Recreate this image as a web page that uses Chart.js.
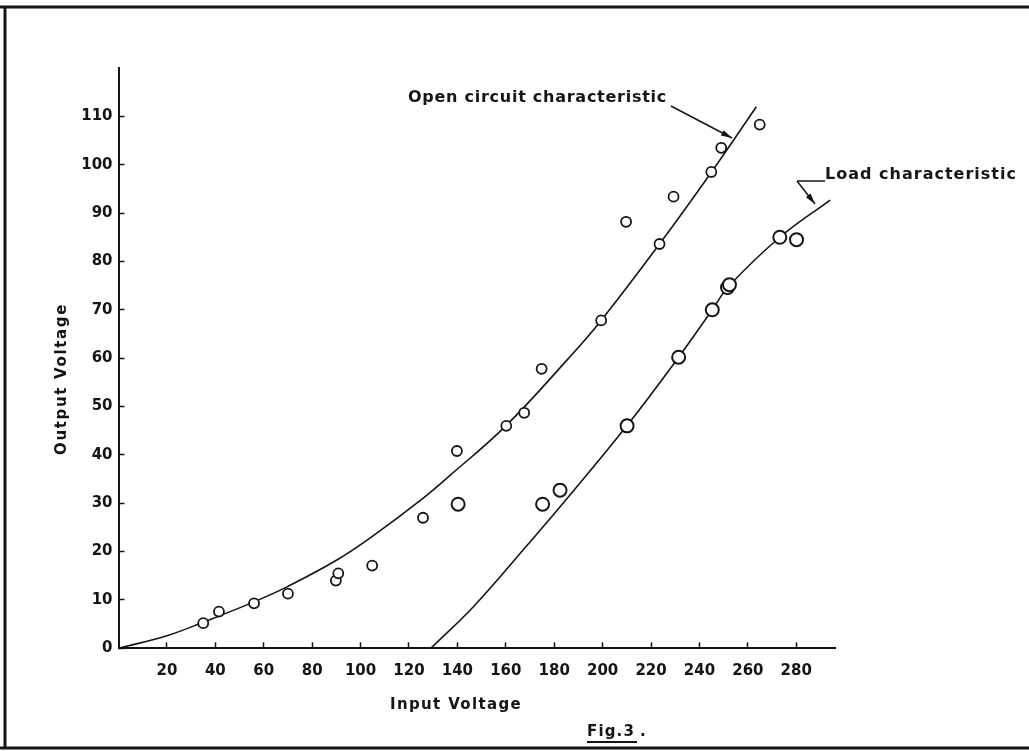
<!DOCTYPE html>
<html>
<head>
<meta charset="utf-8">
<script src="https://cdn.jsdelivr.net/npm/chart.js@4/dist/chart.umd.min.js"></script>
<style>
  body { margin: 0; background: #fffffd; }
  #box { width: 1029px; height: 751px; position: relative; }
</style>
</head>
<body>
<div id="box"><canvas id="myChart"></canvas></div>
<script>
let ctx = document.getElementById('myChart')
let ink = '#161513'
let fontName = '"DejaVu Sans", sans-serif'

// measured points - open circuit (small circles)
let ocX = [35, 41.5, 56, 70, 89.8, 90.8, 104.8, 125.8, 139.8, 160.2, 167.6, 174.8, 199.4, 209.7, 223.5, 229.3, 244.9, 249, 264.9]
let ocY = [5.2, 7.6, 9.3, 11.3, 14, 15.5, 17.1, 27, 40.8, 46, 48.7, 57.8, 67.8, 88.2, 83.6, 93.4, 98.5, 103.5, 108.3]

// measured points - load (large circles)
let ldX = [140.3, 175.2, 182.4, 210.1, 231.4, 245.3, 251.6, 252.4, 273.2, 280.1]
let ldY = [29.8, 29.8, 32.7, 46, 60.2, 70, 74.6, 75.2, 85, 84.5]

// fitted curves
let ocCurveX = [0, 20, 35, 56, 70, 90, 105, 125.5, 137.3, 160, 186, 199.4, 223.5, 245, 263.5]
let ocCurveY = [0, 2.6, 5.4, 9.6, 12.8, 18.2, 23.2, 30.9, 35.9, 46, 60, 67.8, 83.6, 98.5, 112]
let ldCurveX = [129, 147, 169, 184, 210, 231.4, 245.3, 252, 273.2, 294]
let ldCurveY = [0, 8.8, 21.4, 30.2, 46, 60.2, 70, 74.8, 85, 92.7]

// axis ticks
let xTicks = [20, 40, 60, 80, 100, 120, 140, 160, 180, 200, 220, 240, 260, 280]
let yTicks = [0, 10, 20, 30, 40, 50, 60, 70, 80, 90, 100, 110]

let pairs = (xs, ys) => xs.map((x, i) => ({ x: x, y: ys[i] }))

function fitText(c, text, x, y, w, align) {
    c.letterSpacing = '0px'
    let natural = c.measureText(text).width
    let sp = (w - natural) / text.length
    c.letterSpacing = sp + 'px'
    c.textAlign = 'left'
    let startX = align === 'center' ? x - w / 2 : x
    c.fillText(text, startX, y)
    c.letterSpacing = '0px'
}

function arrow(c, x1, y1, x2, y2) {
    c.beginPath()
    c.moveTo(x1, y1)
    c.lineTo(x2, y2)
    c.stroke()
    let a = Math.atan2(y2 - y1, x2 - x1)
    c.beginPath()
    c.moveTo(x2, y2)
    c.lineTo(x2 - 11 * Math.cos(a) + 3 * Math.sin(a), y2 - 11 * Math.sin(a) - 3 * Math.cos(a))
    c.lineTo(x2 - 11 * Math.cos(a) - 3 * Math.sin(a), y2 - 11 * Math.sin(a) + 3 * Math.cos(a))
    c.closePath()
    c.fill()
}

let paperPlugin = {
    id: 'paper',
    beforeDraw(chart) {
        let c = chart.ctx
        c.save()
        c.fillStyle = '#fffffd'
        c.fillRect(0, 0, chart.width, chart.height)
        c.strokeStyle = ink
        c.lineWidth = 3
        c.beginPath()
        c.moveTo(0, 7)
        c.lineTo(chart.width, 7)
        c.moveTo(5, 7)
        c.lineTo(5, 748)
        c.moveTo(0, 748)
        c.lineTo(chart.width, 748)
        c.stroke()
        c.restore()
    },
    afterDraw(chart) {
        let c = chart.ctx
        c.save()
        c.fillStyle = ink
        c.strokeStyle = ink
        c.textBaseline = 'middle'
        c.font = 'bold 16px ' + fontName
        fitText(c, 'Open circuit characteristic', 408, 98, 259, 'left')
        fitText(c, 'Load characteristic', 825, 175, 192, 'left')

        c.font = 'bold 15px ' + fontName
        fitText(c, 'Input Voltage', 456, 705, 132, 'center')
        c.save()
        c.translate(62, 379)
        c.rotate(-Math.PI / 2)
        fitText(c, 'Output Voltage', 0, 0, 152, 'center')
        c.restore()

        fitText(c, 'Fig.3', 587, 732, 48, 'left')
        c.fillText('.', 640, 732)
        c.lineWidth = 2
        c.beginPath()
        c.moveTo(587, 742)
        c.lineTo(637, 742)
        c.stroke()

        // leader arrows
        c.lineWidth = 1.5
        arrow(c, 671, 106, 732, 138)
        c.beginPath()
        c.moveTo(825, 181)
        c.lineTo(797, 181)
        c.stroke()
        arrow(c, 797, 181, 815, 204)
        c.restore()
    }
}

let tickFont = { family: fontName, size: 15, weight: 'bold' }

new Chart(ctx, {
    type: 'scatter',
    data: {
        datasets: [
            {
                label: 'Open circuit points',
                data: pairs(ocX, ocY),
                pointRadius: 5,
                pointBorderWidth: 1.8,
                pointBorderColor: ink,
                pointBackgroundColor: '#fffffd',
                order: 1
            },
            {
                label: 'Load points',
                data: pairs(ldX, ldY),
                pointRadius: 6.5,
                pointBorderWidth: 2,
                pointBorderColor: ink,
                pointBackgroundColor: '#fffffd',
                order: 1
            },
            {
                label: 'Open circuit characteristic',
                data: pairs(ocCurveX, ocCurveY),
                showLine: true,
                pointRadius: 0,
                borderColor: ink,
                borderWidth: 1.6,
                tension: 0.4,
                order: 2
            },
            {
                label: 'Load characteristic',
                data: pairs(ldCurveX, ldCurveY),
                showLine: true,
                pointRadius: 0,
                borderColor: ink,
                borderWidth: 1.6,
                tension: 0.4,
                order: 2
            }
        ]
    },
    options: {
        responsive: true,
        maintainAspectRatio: false,
        animation: false,
        layout: { padding: { top: 68, right: 194, left: 0, bottom: 0 } },
        plugins: {
            legend: { display: false },
            tooltip: { enabled: false }
        },
        scales: {
            x: {
                type: 'linear',
                min: 0,
                max: 296,
                afterBuildTicks: s => { s.ticks = xTicks.map(v => ({ value: v })) },
                afterFit: s => { s.height = 751 - 648.3 },
                ticks: { color: ink, font: tickFont, padding: 20, maxRotation: 0, autoSkip: false },
                grid: { drawOnChartArea: false, tickLength: -6, tickColor: ink, tickWidth: 1.5 },
                border: { color: ink, width: 2 }
            },
            y: {
                type: 'linear',
                min: 0,
                max: 120,
                afterBuildTicks: s => { s.ticks = yTicks.map(v => ({ value: v })) },
                afterFit: s => { s.width = 118.5 },
                ticks: { color: ink, font: tickFont, padding: 12, autoSkip: false },
                grid: { drawOnChartArea: false, tickLength: -6, tickColor: ink, tickWidth: 1.5 },
                border: { color: ink, width: 2 }
            }
        }
    },
    plugins: [paperPlugin]
});
</script>
</body>
</html>
